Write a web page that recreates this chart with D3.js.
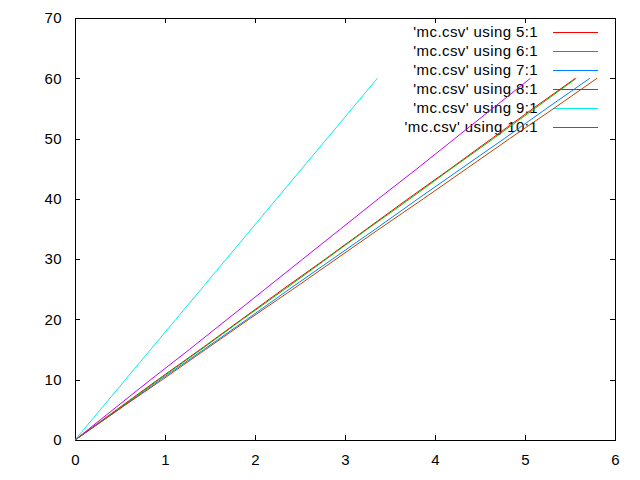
<!DOCTYPE html>
<html><head><meta charset="utf-8">
<script src="https://cdn.jsdelivr.net/npm/d3@7"></script>
<style>body{margin:0;background:#fff}svg{display:block}text{font-family:"Liberation Sans",Arial,sans-serif;font-size:15px;letter-spacing:0.4px;fill:#000}</style>
</head><body>
<script>
const yValues = [0,5,10,15,20,25,30,35,40,45,50,55,60];
const col5  = [0,0.46,0.92,1.39,1.85,2.31,2.78,3.24,3.70,4.17,4.63,5.09,5.56];
const col6  = [0,0.47,0.93,1.40,1.86,2.33,2.79,3.25,3.72,4.18,4.65,5.11,5.57];
const col7  = [0,0.48,0.95,1.43,1.91,2.38,2.86,3.34,3.81,4.29,4.77,5.24,5.72];
const col8  = [0,0.42,0.84,1.27,1.69,2.11,2.53,2.95,3.37,3.80,4.22,4.64,5.06];
const col9  = [0,0.28,0.56,0.84,1.12,1.40,1.68,1.96,2.24,2.52,2.80,3.08,3.36];
const col10 = [0,0.48,0.97,1.45,1.93,2.42,2.90,3.38,3.87,4.35,4.83,5.32,5.80];
const seriesNames = ["'mc.csv' using 5:1","'mc.csv' using 6:1","'mc.csv' using 7:1","'mc.csv' using 8:1","'mc.csv' using 9:1","'mc.csv' using 10:1"];
const seriesX = [col5,col6,col7,col8,col9,col10];
const colors = ["#ff0000","#00c000","#0080ff","#c000ff","#00eeee","#c04000"];
const xTicks = [0,1,2,3,4,5,6];
const yTicks = [0,10,20,30,40,50,60,70];

const W=640,H=480, L=75,R=615,T=18,B=440;
const svg=d3.select("body").append("svg").attr("width",W).attr("height",H);
const x=d3.scaleLinear().domain([0,6]).range([L,R]);
const y=d3.scaleLinear().domain([0,70]).range([B,T]);

// legend text
const leg=svg.append("g");
seriesNames.forEach((n,i)=>{
  const ly=32+19*i;
  leg.append("text").attr("x",538).attr("y",ly).attr("dy","0.35em").attr("text-anchor","end").text(n);
});

// axes with inward ticks
const tl=5;
const fmt=d3.format("d");
svg.append("g").attr("transform",`translate(0,${B})`).call(d3.axisBottom(x).tickValues(xTicks).tickFormat(fmt).tickSizeInner(-tl).tickSizeOuter(0).tickPadding(14))
  .call(g=>{g.select(".domain").remove();g.selectAll("text").attr("font-size",null).attr("font-family",null);});
svg.append("g").attr("transform",`translate(${L},0)`).call(d3.axisLeft(y).tickValues(yTicks).tickFormat(fmt).tickSizeInner(-tl).tickSizeOuter(0).tickPadding(13))
  .call(g=>{g.select(".domain").remove();g.selectAll("text").attr("font-size",null).attr("font-family",null);});
svg.append("g").attr("transform",`translate(0,${T})`).call(d3.axisTop(x).tickValues(xTicks).tickSizeInner(-tl).tickSizeOuter(0).tickFormat(""))
  .call(g=>g.select(".domain").remove());
svg.append("g").attr("transform",`translate(${R},0)`).call(d3.axisRight(y).tickValues(yTicks).tickSizeInner(-tl).tickSizeOuter(0).tickFormat(""))
  .call(g=>g.select(".domain").remove());
svg.selectAll("g").attr("font-size",null).attr("font-family",null);
svg.selectAll(".tick line").attr("stroke","#000").attr("shape-rendering","crispEdges");
svg.append("rect").attr("x",L+0.5).attr("y",T+0.5).attr("width",R-L).attr("height",B-T)
  .attr("fill","none").attr("stroke","#000").attr("shape-rendering","crispEdges");

// lines
const line=d3.line().x(d=>x(d[0])).y(d=>y(d[1]));
seriesX.forEach((xs,i)=>{
  const pts=xs.map((v,j)=>[v,yValues[j]]);
  svg.append("path").datum(pts).attr("d",line).attr("fill","none").attr("stroke",colors[i]).attr("stroke-width",1);
  const ly=32+19*i+0.5;
  svg.append("line").attr("x1",553).attr("x2",598).attr("y1",ly).attr("y2",ly).attr("stroke",colors[i]).attr("stroke-width",1).attr("shape-rendering","crispEdges");
});
</script>
</body></html>
